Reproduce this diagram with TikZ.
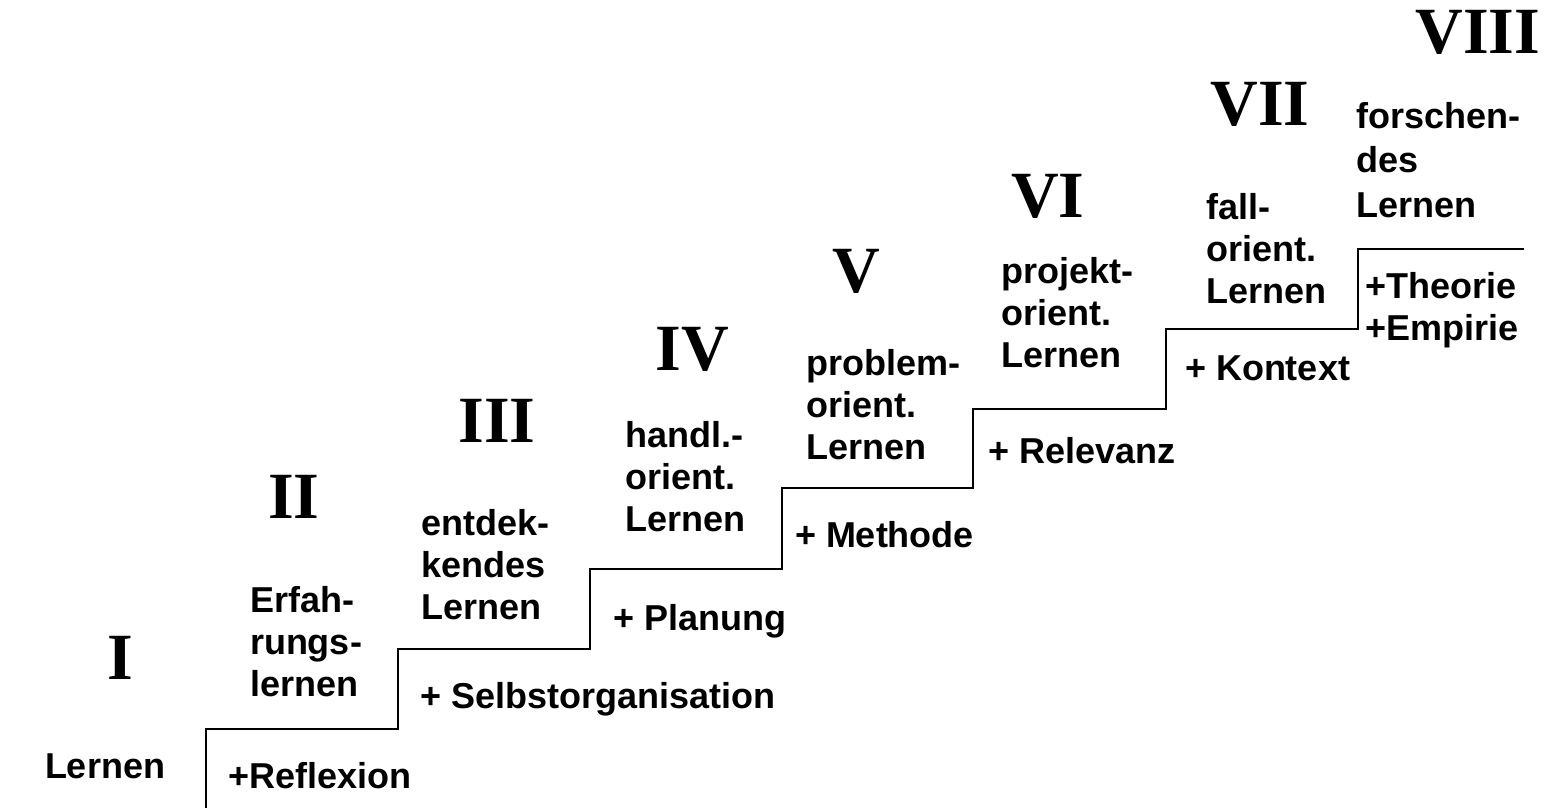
\documentclass[tikz,border=0pt]{standalone}
\usepackage{fontspec}
\setmainfont{Liberation Sans}
\newfontfamily\numfont{Liberation Serif}
\tikzset{
  lbl/.style={inner sep=0pt, outer sep=0pt, font=\bfseries\fontsize{36}{42}\selectfont, anchor=base west},
  blk/.style={inner sep=0pt, outer sep=0pt, font=\bfseries\fontsize{36}{42}\selectfont, align=left, anchor=north west},
  num/.style={inner sep=0pt, outer sep=0pt, font=\numfont\bfseries\fontsize{66}{70}\selectfont, anchor=base},
  stair/.style={line width=2pt, line join=miter}
}
\newcommand{\fl}{\rule{0pt}{28pt}}
\begin{document}
\begin{tikzpicture}[x=1pt,y=-1pt]
\useasboundingbox (0,0) rectangle (1544,808);
% staircase
\draw[stair] (206,808) -- (206,729) -- (398,729) -- (398,649) -- (590,649) -- (590,569)
  -- (782,569) -- (782,488) -- (973,488) -- (973,409) -- (1166,409) -- (1166,329)
  -- (1358,329) -- (1358,249) -- (1524,249);
% numerals
\node[num] (n1) at (120,679) {I};
\node[num] (n2) at (294,518) {II};
\node[num] (n3) at (497,442) {III};
\node[num] (n4) at (692,370) {IV};
\node[num] (n5) at (856,292) {V};
\node[num] (n6) at (1048,217) {VI};
\node[num] (n7) at (1260,125) {VII};
\node[num] (n8) at (1478,53) {VIII};
% level names
\node[lbl] (t1) at (45,778) {Lernen};
\node[blk] (t2) at (250,612-28) {\fl Erfah-\\rungs-\\lernen};
\node[blk] (t3) at (421,535-28) {\fl entdek-\\kendes\\Lernen};
\node[blk] (t4) at (625,447-28) {\fl handl.-\\orient.\\Lernen};
\node[blk] (t5) at (806,375-28) {\fl problem-\\orient.\\Lernen};
\node[blk] (t6) at (1001,283-28) {\fl projekt-\\orient.\\Lernen};
\node[blk] (t7) at (1206,219-28) {\fl fall-\\orient.\\Lernen};
\node[blk, font=\bfseries\fontsize{36}{44.5}\selectfont] (t8) at (1356,128-28) {\fl forschen-\\des\\Lernen};
% additions
\node[lbl] (a1) at (228,788) {+Reflexion};
\node[lbl] (a2) at (420,708) {+ Selbstorganisation};
\node[lbl] (a3) at (613,630) {+ Planung};
\node[lbl] (a4) at (795,547) {+ Methode};
\node[lbl] (a5) at (988,463) {+ Relevanz};
\node[lbl] (a6) at (1185,380) {+ Kontext};
\node[blk] (a7) at (1365,298-28) {\fl +Theorie\\+Empirie};
\end{tikzpicture}
\end{document}
